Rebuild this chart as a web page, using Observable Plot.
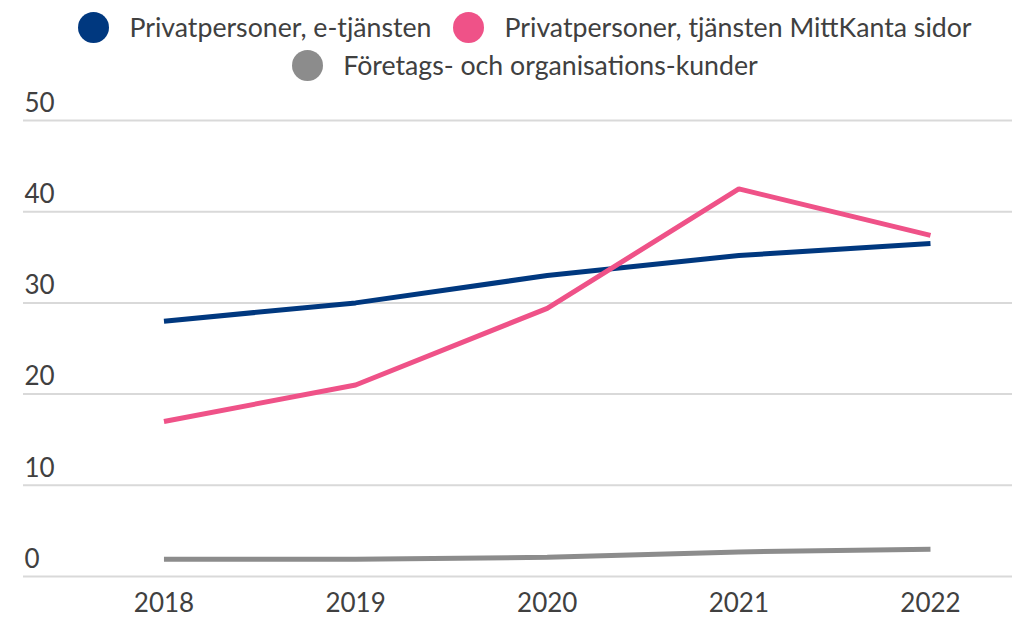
<!DOCTYPE html>
<html>
<head>
<meta charset="utf-8">
<script src="https://cdn.jsdelivr.net/npm/d3@7"></script>
<script src="https://cdn.jsdelivr.net/npm/@observablehq/plot@0.6"></script>
<style>
  html, body { margin: 0; padding: 0; background: #fff; }
  body { width: 1014px; height: 618px; overflow: hidden; font-family: Lato, "Noto Sans", sans-serif; color: #404040; }
  #legend { height: 85px; box-sizing: border-box; padding-left: 36px; padding-top: 8px; }
  .row { display: flex; justify-content: center; align-items: center; height: 38px; }
  .item { display: flex; align-items: center; margin: 0 11px; font-size: 26.7px; white-space: nowrap; }
  .sw { width: 31px; height: 31px; border-radius: 50%; margin-right: 20px; flex: none; }
  svg { display: block; }
</style>
</head>
<body>
<div id="legend"></div>
<div id="chart"></div>
<script>
const years = [2018, 2019, 2020, 2021, 2022];
const seriesNames = ["Privatpersoner, e-tjänsten", "Privatpersoner, tjänsten MittKanta sidor", "Företags- och organisations-kunder"];
const eTjansten = [28, 30, 33, 35.2, 36.5];
const mittKanta = [17, 21, 29.4, 42.5, 37.4];
const foretag = [1.9, 1.9, 2.1, 2.7, 3.0];
const yTicks = [0, 10, 20, 30, 40, 50];
const colors = ["#00387f", "#ef5288", "#8c8c8c"];

const seriesValues = [eTjansten, mittKanta, foretag];
const data = seriesNames.flatMap((name, i) => years.map((year, j) => ({series: name, year, value: seriesValues[i][j]})));

// legend
const legend = document.getElementById("legend");
const rows = [[0, 1], [2]];
for (const r of rows) {
  const row = document.createElement("div");
  row.className = "row";
  for (const i of r) {
    const item = document.createElement("div");
    item.className = "item";
    const sw = document.createElement("span");
    sw.className = "sw";
    sw.style.background = colors[i];
    const t = document.createElement("span");
    t.textContent = seriesNames[i];
    item.appendChild(sw);
    item.appendChild(t);
    row.appendChild(item);
  }
  legend.appendChild(row);
}

const chart = Plot.plot({
  width: 1014,
  height: 533,
  marginLeft: 23,
  marginRight: 2,
  marginTop: 35,
  marginBottom: 42,
  style: {fontFamily: "Lato, 'Noto Sans', sans-serif", color: "#404040", background: "#fff"},
  x: {type: "linear", domain: [2017.267, 2022.428]},
  y: {domain: [0, 50]},
  marks: [
    Plot.ruleY(yTicks, {stroke: "#d9d9d9", strokeWidth: 2}),
    Plot.axisY(yTicks, {anchor: "left", tickSize: 0, tickPadding: 0, textAnchor: "start", dx: 1, dy: -17, fontSize: 26, fill: "#404040", label: null}),
    Plot.axisX(years, {anchor: "bottom", tickSize: 0, tickPadding: 17, tickFormat: d => String(d), fontSize: 26, fill: "#404040", label: null}),
    Plot.line(data, {x: "year", y: "value", z: "series", stroke: "series", strokeWidth: 5, strokeLinejoin: "miter", strokeLinecap: "butt"})
  ],
  color: {domain: seriesNames, range: colors}
});
document.getElementById("chart").appendChild(chart);
</script>
</body>
</html>
